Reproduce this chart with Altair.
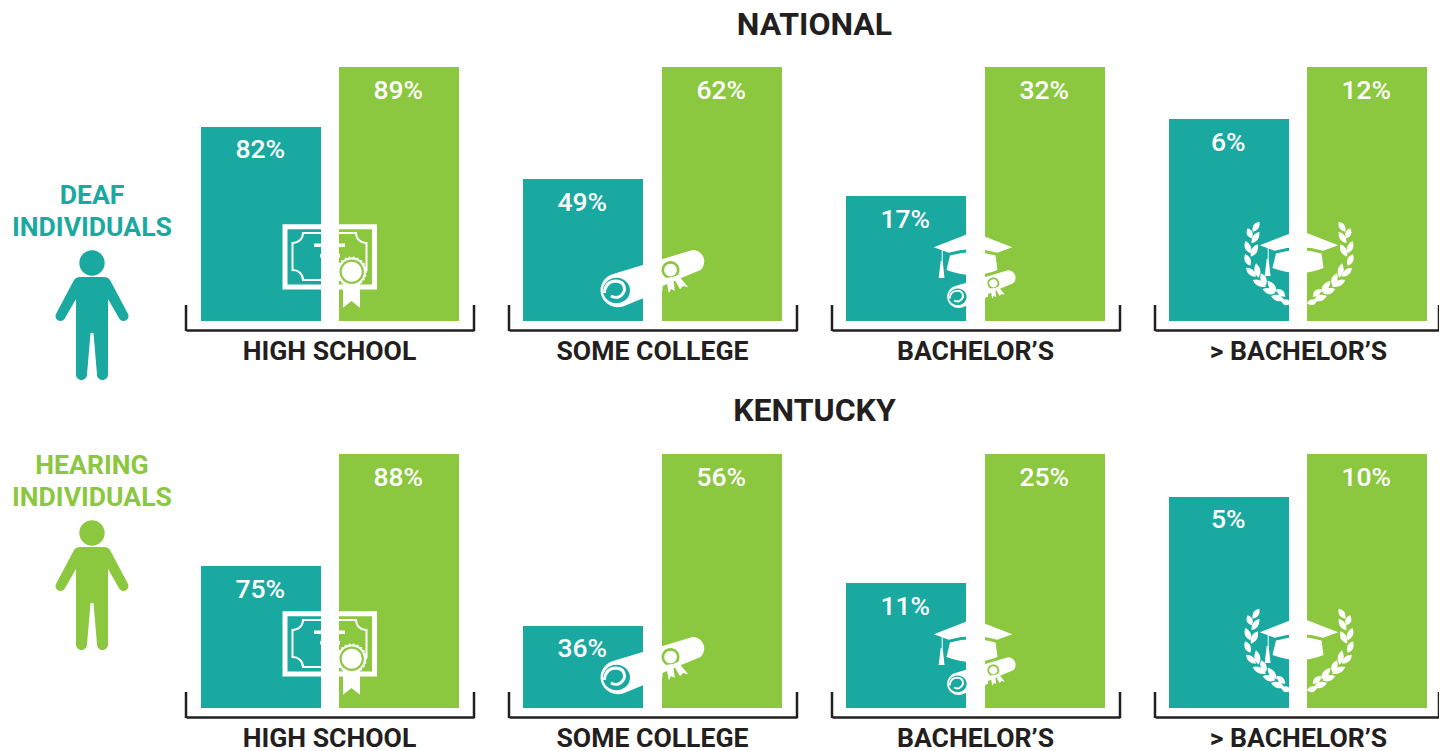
import math
import altair as alt
import pandas as pd

levels = ["HIGH SCHOOL", "SOME COLLEGE", "BACHELOR\u2019S", "> BACHELOR\u2019S"]
groups = ["Deaf", "Hearing"]
national_deaf_pct = [82, 49, 17, 6]
national_hearing_pct = [89, 62, 32, 12]
kentucky_deaf_pct = [75, 36, 11, 5]
kentucky_hearing_pct = [88, 56, 25, 10]
# bar lengths as drawn in the picture (the hearing bar of each panel = 100)
national_deaf_drawn = [76.4, 55.9, 49.2, 79.5]
national_hearing_drawn = [100, 100, 100, 100]
kentucky_deaf_drawn = [55.9, 32.3, 49.2, 83.1]
kentucky_hearing_drawn = [100, 100, 100, 100]

TEAL = "#1aa9a0"
GREEN = "#8cc740"
INK = "#231f20"
FONT = "Roboto"
W, H = 288, 254
GAP_X = 144
LAST_TRIM = 4
LEADS = [15, 14, 14, 14]   # white space left of the teal bar, per level
GAPS = [18, 19, 19, 18]    # white space between the two bars, per level


def circ(cx, cy, r, ry=None):
    ry = ry or r
    return (f"M{cx-r},{cy} A{r},{ry} 0 1 1 {cx+r},{cy} A{r},{ry} 0 1 1 {cx-r},{cy} Z ")


def star(cx, cy, r1, r2, n):
    pts = []
    for i in range(2 * n):
        r = r1 if i % 2 == 0 else r2
        a = math.pi * i / n
        pts.append(f"{cx + r*math.cos(a):.2f},{cy + r*math.sin(a):.2f}")
    return "M" + " L".join(pts) + " Z "


def leaf(x1, y1, x2, y2, wid=6.0):
    # a leaf between two ends, read in 3x-zoom coordinates of the wreath
    def px(zx, zy):
        return zx / 3 - 63, zy / 3 - 106
    out = ""
    for mirror in (1, -1):
        ax, ay = px(x1, y1)
        bx, by = px(x2, y2)
        ax, bx = ax * mirror, bx * mirror
        mx, my = (ax + bx) / 2, (ay + by) / 2
        dx, dy = bx - ax, by - ay
        n = math.hypot(dx, dy)
        nx, ny = -dy / n * wid * mirror, dx / n * wid * mirror
        out += (f"M{ax:.2f},{ay:.2f} Q{mx+nx:.2f},{my+ny:.2f} {bx:.2f},{by:.2f} "
                f"Q{mx-nx:.2f},{my-ny:.2f} {ax:.2f},{ay:.2f} Z ")
    return out


PERSON = (circ(0, -14, 12.7) +
          "M-12,0 L12,0 Q16,0 18,3 L35.5,36 A5,5 0 0 1 27.5,42 L16,22 L16,97.5 "
          "A5.5,5.5 0 0 1 5,97.5 L1.5,56 L-1.5,56 L-5,97.5 A5.5,5.5 0 0 1 -16,97.5 "
          "L-16,22 L-27.5,42 A5,5 0 0 1 -35.5,36 L-18,3 Q-16,0 -12,0 Z")

CERT_BORDER = "M-45,-94.3 L44.5,-94.3 L44.5,-34 L-45,-34 Z"
CERT_FRAME = ("M-27,-88 L26,-88 A10,10 0 0 0 36.5,-78 L36.5,-51 A10,10 0 0 0 26,-41 "
              "L-27,-41 A10,10 0 0 0 -37.5,-51 L-37.5,-78 A10,10 0 0 0 -27,-88 Z")
CERT_LINES = ("M-16,-77.5 L15,-77.5 L15,-74 L-16,-74 Z "
              "M-10,-67 L10,-67 L10,-63.5 L-10,-63.5 Z")
CERT_RIBBON = "M13,-40 L30,-40 L30,-13.3 L21.5,-20 L13,-13.3 Z"
CERT_SEAL_OUT = star(21.7, -49.3, 15.5, 14, 22)
CERT_SEAL_RING = circ(21.7, -49.3, 12.2)
CERT_SEAL_IN = circ(21.7, -49.3, 10)

ROLL_BODY = ("M-40,-47 L39.5,-71 A11.5,11.5 0 0 1 47.5,-51 L27.5,-42.7 L9.5,-35 L9.5,-30.7 "
             "L-30,-14.5 A17,16.5 0 1 1 -40,-47 Z")
ROLL_DISC = circ(-36.5, -30.5, 13.5, 12.8)
ROLL_SPIRAL = "M-42,-25 Q-33,-20.5 -28.5,-30.3 Q-28,-39.5 -37,-40 Q-48,-39.5 -48.5,-28"
ROLL_RING = circ(17.5, -51, 9)
ROLL_DOT = circ(17.5, -51, 6.3)
ROLL_TAILS = ("M13,-43 L15.8,-27.7 L18,-32 L21.8,-30.3 L20,-44 Z "
              "M20,-44 L27,-31.7 L30,-35 L35.2,-33.7 L25,-46 Z")

CAP_TOP = "M-42.2,-73.7 L-3,-89 L36.2,-73.7 L21.2,-68.3 Q-3,-75 -27.2,-68.3 Z"
CAP_BASE = "M-26,-65.5 Q-3,-72 19.5,-65.5 L21.5,-51 Q-3,-41 -29.5,-51 Z"
CAP_TASSEL = ("M-34.3,-73 L-33.3,-73 L-33.3,-60 L-31.5,-43 L-37.3,-43 "
              "L-35.3,-60 L-34.3,-60 Z")

WREATH = "".join(leaf(*e) for e in [
    (70, 20, 50, 50), (35, 40, 47, 70), (70, 50, 47, 85), (28, 78, 43, 115),
    (65, 88, 45, 125), (27, 118, 43, 152), (60, 145, 68, 188), (30, 158, 60, 185),
    (75, 175, 90, 210), (50, 195, 90, 215), (95, 197, 122, 232), (80, 222, 118, 235),
    (122, 222, 148, 245), (105, 243, 145, 255), (135, 258, 165, 265),
])

one = pd.DataFrame({"i": [0]})


def icon(path, color=None, stroke=None, width=0, scale=1.0, dx=0, dy=0):
    kw = dict(shape=path, size=4 * scale * scale, opacity=1)
    if dx:
        kw["xOffset"] = dx
    if dy:
        kw["yOffset"] = dy
    if stroke:
        kw.update(filled=False, stroke=stroke, strokeWidth=width, fillOpacity=0)
    else:
        kw.update(filled=True, fill=color, strokeWidth=0)
    return alt.Chart(one).mark_point(**kw).encode(x=alt.value(GAP_X), y=alt.datum(0))


def roll(scale=1.0, dx=0, dy=0, sw=2.8):
    args = dict(scale=scale, dx=dx, dy=dy)
    return [
        icon(ROLL_BODY, "white", **args),
        icon(ROLL_DISC, TEAL, **args),
        icon(ROLL_SPIRAL, stroke="white", width=sw, **args),
        icon(ROLL_RING, GREEN, **args),
        icon(ROLL_DOT, "white", **args),
        icon(ROLL_TAILS, "white", **args),
    ]


def cap(dx=0, dy=0):
    return [icon(p, "white", dx=dx, dy=dy) for p in (CAP_TOP, CAP_BASE, CAP_TASSEL)]


ICONS = [
    [icon(CERT_BORDER, stroke="white", width=5),
     icon(CERT_FRAME, stroke="white", width=2),
     icon(CERT_LINES, "white"),
     icon(CERT_RIBBON, "white"),
     icon(CERT_SEAL_OUT, "white"),
     icon(CERT_SEAL_RING, GREEN),
     icon(CERT_SEAL_IN, "white")],
    roll(),
    roll(scale=0.66, dx=5.8, dy=-4, sw=1.9) + cap(),
    [icon(WREATH, "white")] + cap(dx=3, dy=-2),
]

colors = alt.Scale(domain=groups, range=[TEAL, GREEN])
bar_y = alt.Scale(domain=[0, 100], nice=False, zero=False)


def panel(i, deaf_pct, hearing_pct, deaf_h, hearing_h, heading=None, heading_dy=-43):
    df = pd.DataFrame({
        "group": groups,
        "drawn": [deaf_h[i], hearing_h[i]],
        "label": [f"{deaf_pct[i]}%", f"{hearing_pct[i]}%"],
    })
    width = W - (LAST_TRIM if i == 3 else 0)
    lead, gap = LEADS[i], GAPS[i]
    trail = width - lead - 240 - gap
    step = 120 + gap
    bar_x = alt.Scale(domain=groups, range=[0, width], paddingInner=gap / step,
                      paddingOuter=(lead + trail) / 2 / step, align=lead / (lead + trail))
    x = alt.X("group:N", sort=groups, scale=bar_x, axis=alt.Axis(
        title=levels[i], titleFont=FONT, titleFontSize=26.6, titleFontWeight="bold",
        titleColor=INK, titlePadding=8.5, offset=9, domain=True, domainColor=INK,
        domainWidth=2.5, ticks=False, labels=False, grid=False,
        titleX=W / 2 - 1, titleAnchor="middle"))
    y = alt.Y("drawn:Q", scale=bar_y, axis=None)
    bars = alt.Chart(df).mark_bar(size=120).encode(
        x=x, y=y, color=alt.Color("group:N", scale=colors, legend=None))
    text = alt.Chart(df).mark_text(
        font=FONT, fontSize=26.5, fontWeight=500, color="white", dx=-0.8, dy=23.5, baseline="middle"
    ).encode(x=alt.X("group:N", sort=groups, scale=bar_x), y=alt.Y("drawn:Q", scale=bar_y, axis=None),
             text="label:N")
    arms = [alt.Chart(one).mark_rule(color=INK, strokeWidth=2.5).encode(
        x=alt.value(v), y=alt.value(H - 16), y2=alt.value(H + 10)) for v in (0, width)]
    layers = [bars, text] + arms + ICONS[i]
    if heading:
        layers.append(alt.Chart(one).mark_text(
            text=heading, font=FONT, fontSize=32, fontWeight="bold", color=INK, baseline="middle"
        ).encode(x=alt.value(W + 17.5), y=alt.value(heading_dy)))
    return alt.layer(*layers).properties(width=width, height=H)


def side(lines, color, top):
    layers = [alt.Chart(one).mark_text(
        text=t, font=FONT, fontSize=26.6, fontWeight="bold", color=color, baseline="middle"
    ).encode(x=alt.value(84), y=alt.value(top + 1 + 32 * k)) for k, t in enumerate(lines)]
    person = alt.Chart(one).mark_point(
        shape=PERSON, size=4, filled=True, fill=color, strokeWidth=0, opacity=1
    ).encode(x=alt.value(84), y=alt.value(top + 82))
    return alt.layer(*layers, person).properties(width=143, height=H)


cells = [side(["DEAF", "INDIVIDUALS"], TEAL, 128)]
for i in range(4):
    cells.append(panel(i, national_deaf_pct, national_hearing_pct, national_deaf_drawn,
                       national_hearing_drawn, "NATIONAL" if i == 1 else None, -42))
cells.append(side(["HEARING", "INDIVIDUALS"], GREEN, 11))
for i in range(4):
    cells.append(panel(i, kentucky_deaf_pct, kentucky_hearing_pct, kentucky_deaf_drawn,
                       kentucky_hearing_drawn, "KENTUCKY" if i == 1 else None, -43))

chart = alt.concat(*cells, columns=5, spacing={"column": 35, "row": 133},
                   bounds="flush", align="each").properties(
    padding={"left": 0, "top": 1, "right": -2, "bottom": 0}
).configure_view(stroke=None)

chart.save("out.html", embed_options={"renderer": "svg", "actions": False})
